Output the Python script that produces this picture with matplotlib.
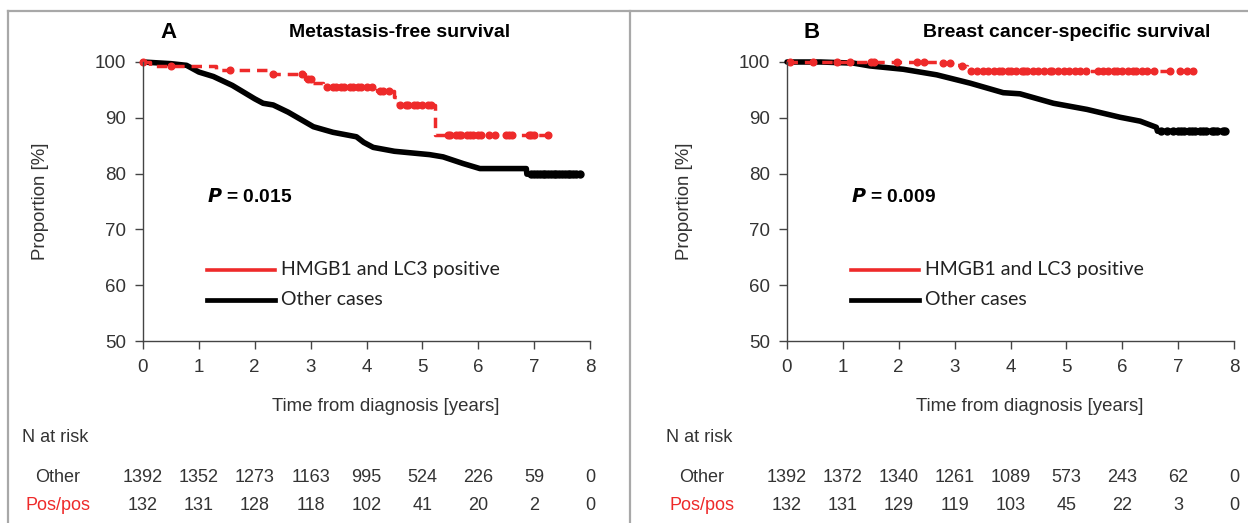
import matplotlib
matplotlib.use("Agg")
import matplotlib.pyplot as plt
import matplotlib.transforms as mtransforms
from matplotlib.lines import Line2D
import numpy as np

plt.rcParams['font.family'] = ['Liberation Sans', 'DejaVu Sans']

RED = '#ee2a2a'
BLACK = '#000000'
GREY = '#333333'

# panel A: metastasis-free survival
a_red_t = [0, 0.13, 1.30, 2.30, 2.90, 3.02, 3.22, 4.19, 4.50, 4.56, 5.22, 7.25]
a_red_s = [100, 99.3, 98.6, 97.8, 96.9, 96.3, 95.5, 94.8, 93.7, 92.3, 87.0, 87.0]
a_red_cens = [0.0, 0.5, 1.55, 2.33, 2.85, 2.95, 3.0, 3.3, 3.4, 3.45, 3.55, 3.6, 3.7,
              3.75, 3.85, 3.9, 4.0, 4.1, 4.25, 4.3, 4.4, 4.6, 4.7, 4.75, 4.85, 4.9,
              5.0, 5.1, 5.15, 5.45, 5.5, 5.6, 5.65, 5.7, 5.8, 5.85, 5.9, 6.0, 6.05,
              6.2, 6.3, 6.5, 6.55, 6.6, 6.9, 6.95, 7.0, 7.25]
a_blk_t = [0, 0.5, 0.78, 1.0, 1.26, 1.6, 2.0, 2.15, 2.33, 2.6, 3.05, 3.4, 3.82, 3.95,
           4.12, 4.5, 5.13, 5.37, 5.73, 6.03, 6.86, 6.87, 7.82]
a_blk_s = [100, 99.7, 99.4, 98.2, 97.4, 95.8, 93.4, 92.6, 92.3, 91.0, 88.4, 87.4, 86.6,
           85.6, 84.7, 84.0, 83.4, 83.0, 81.8, 80.9, 80.9, 79.9, 79.9]
a_blk_cens = [6.95, 7.0, 7.05, 7.1, 7.15, 7.2, 7.25, 7.3, 7.35, 7.4, 7.45, 7.5, 7.55,
              7.6, 7.65, 7.7, 7.75, 7.82]

# panel B: breast cancer-specific survival
b_red_t = [0, 2.80, 2.95, 3.12, 3.22, 7.27]
b_red_s = [100, 99.8, 99.5, 99.2, 98.4, 98.4]
b_red_cens = [0.05, 0.47, 0.9, 1.13, 1.5, 1.55, 1.96, 2.32, 2.45, 2.8, 2.92, 3.13,
              3.3, 3.4, 3.5, 3.6, 3.7, 3.8, 3.85, 3.95, 4.0, 4.1, 4.2, 4.25, 4.3, 4.4,
              4.5, 4.6, 4.7, 4.75, 4.85, 4.95, 5.05, 5.15, 5.24, 5.36, 5.57, 5.65,
              5.75, 5.85, 5.9, 6.0, 6.1, 6.2, 6.25, 6.35, 6.45, 6.56, 6.85, 7.03,
              7.15, 7.27]
b_blk_t = [0, 0.6, 1.19, 1.48, 2.08, 2.68, 3.28, 3.87, 4.17, 4.77, 5.37, 5.96, 6.32,
           6.61, 6.63, 7.84]
b_blk_s = [100, 100, 99.8, 99.3, 98.7, 97.7, 96.2, 94.5, 94.3, 92.6, 91.5, 90.1, 89.4,
           88.3, 87.6, 87.6]
b_blk_cens = [6.7, 6.8, 6.9, 7.0, 7.05, 7.1, 7.2, 7.25, 7.3, 7.4, 7.45, 7.5, 7.6,
              7.65, 7.7, 7.8, 7.84]

xticks = [0, 1, 2, 3, 4, 5, 6, 7, 8]
yticks = [50, 60, 70, 80, 90, 100]
a_risk_other = [1392, 1352, 1273, 1163, 995, 524, 226, 59, 0]
a_risk_pos = [132, 131, 128, 118, 102, 41, 20, 2, 0]
b_risk_other = [1392, 1372, 1340, 1261, 1089, 573, 243, 62, 0]
b_risk_pos = [132, 131, 129, 119, 103, 45, 22, 3, 0]

W, H = 1248, 523


def step_value(times, surv, t):
    idx = np.searchsorted(times, t, side='right') - 1
    return np.array(surv)[idx]


def draw_panel(fig, left_px, letter, title, title_x, pval, red_t, red_s, red_c,
               blk_t, blk_s, blk_c, risk_other, risk_pos):
    ax = fig.add_axes([left_px / W, 182 / H, 447 / W, 279 / H])
    ax.set_xlim(0, 8)
    ax.set_ylim(50, 100)
    for s in ['top', 'right']:
        ax.spines[s].set_visible(False)
    for s in ['left', 'bottom']:
        ax.spines[s].set_color('#444444')
        ax.spines[s].set_linewidth(1.0)
    ax.set_xticks(xticks)
    ax.set_yticks(yticks)
    ax.tick_params(direction='out', length=6, width=1.0, colors='#444444',
                   labelcolor=GREY, labelsize=13.5)
    ax.tick_params(axis='x', pad=7)
    ax.tick_params(axis='y', pad=6)
    ax.set_xlabel('Time from diagnosis [years]', fontsize=13.4, color=GREY)
    ax.xaxis.set_label_coords(0.544, -0.206)
    ax.set_ylabel('Proportion [%]', fontsize=13.4, color=GREY)
    ax.yaxis.set_label_coords(-0.21, 0.5)

    # black curve (other cases)
    ax.plot(blk_t, blk_s, color=BLACK, lw=4.0, clip_on=False, solid_capstyle='round',
            solid_joinstyle='round')
    ax.plot(blk_c, step_value(blk_t, blk_s, blk_c), 'o', color=BLACK, ms=5,
            clip_on=False)
    # red curve (HMGB1 and LC3 positive)
    ax.step(red_t, red_s, where='post', color=RED, lw=2.5, ls=(0, (3, 2)),
            clip_on=False)
    ax.plot(red_c, step_value(red_t, red_s, red_c), 'o', color=RED, ms=4.8,
            clip_on=False)

    # titles
    ax.text(0.056, 1.104, letter, transform=ax.transAxes, fontsize=16,
            fontweight='bold', ha='center', va='center')
    ax.text(title_x, 1.104, title, transform=ax.transAxes,
            fontsize=14, fontweight='bold', ha='center', va='center')
    ax.text(0.143, 0.516, r'$\bfit{P}$' + ' = ' + pval, transform=ax.transAxes,
            fontsize=13.8, fontweight='bold', ha='left', va='center')

    # legend
    ax.plot([0.143, 0.295], [0.2545, 0.2545], color=RED, lw=2.6,
            transform=ax.transAxes, clip_on=False)
    ax.plot([0.143, 0.295], [0.147, 0.147], color=BLACK, lw=3.4,
            transform=ax.transAxes, clip_on=False)
    ax.text(0.309, 0.2545, 'HMGB1 and LC3 positive', transform=ax.transAxes,
            fontsize=14, family=['Lato', 'DejaVu Sans'], va='center', color='#222222')
    ax.text(0.309, 0.147, 'Other cases', transform=ax.transAxes,
            fontsize=14, family=['Lato', 'DejaVu Sans'], va='center', color='#222222')

    # number at risk table
    tr = mtransforms.blended_transform_factory(ax.transData, fig.transFigure)
    lab_x = (left_px - 85) / W
    fig.text((left_px - 121) / W, 1 - 437 / H, 'N at risk', fontsize=13, color=GREY,
             ha='left', va='center')
    fig.text(lab_x, 1 - 478 / H, 'Other', fontsize=13, color=GREY,
             ha='center', va='center')
    fig.text(lab_x, 1 - 506 / H, 'Pos/pos', fontsize=13, color=RED,
             ha='center', va='center')
    for x, n1, n2 in zip(xticks, risk_other, risk_pos):
        ax.text(x, 1 - 478 / H, str(n1), transform=tr, fontsize=13, color=GREY,
                ha='center', va='center')
        ax.text(x, 1 - 506 / H, str(n2), transform=tr, fontsize=13, color=GREY,
                ha='center', va='center')
    return ax


fig = plt.figure(figsize=(W / 100, H / 100), dpi=100)

draw_panel(fig, 143, 'A', 'Metastasis-free survival', 0.573, '0.015',
           a_red_t, a_red_s, a_red_cens, a_blk_t, a_blk_s, a_blk_cens,
           a_risk_other, a_risk_pos)
draw_panel(fig, 787, 'B', 'Breast cancer-specific survival', 0.626, '0.009',
           b_red_t, b_red_s, b_red_cens, b_blk_t, b_blk_s, b_blk_cens,
           b_risk_other, b_risk_pos)

# frame lines around the panels
border = dict(color='#a8a8a8', lw=1.6, transform=fig.transFigure)
fig.add_artist(Line2D([8 / W, 1], [1 - 11 / H, 1 - 11 / H], **border))
fig.add_artist(Line2D([8 / W, 8 / W], [0, 1 - 11 / H], **border))
fig.add_artist(Line2D([630 / W, 630 / W], [0, 1 - 11 / H], **border))

fig.savefig('out.png', dpi=100)
